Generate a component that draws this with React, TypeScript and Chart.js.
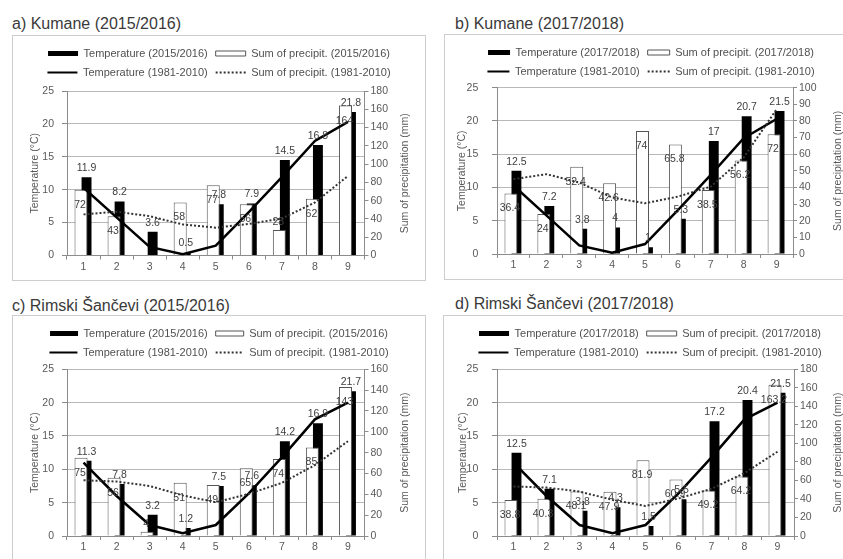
import React, { useEffect, useRef } from "react";
import { Chart, registerables } from "chart.js";

Chart.register(...registerables);

const FAMILY = '"Liberation Sans", Arial, sans-serif';

// ---- data ----
const months = ["1", "2", "3", "4", "5", "6", "7", "8", "9"];

const tempKumane1516 = [11.9, 8.2, 3.6, 0.5, 7.8, 7.9, 14.5, 16.8, 21.8];
const precKumane1516 = [72, 43, 0, 58, 77, 56, 28, 62, 164];
const tempKumane1718 = [12.5, 7.2, 3.8, 4, 1, 5.3, 17, 20.7, 21.5];
const precKumane1718 = [36.4, 24, 52.4, 42.6, 74, 65.8, 38.5, 56.2, 72];
const normTempKumane = [10.3, 5.8, 1.3, 0.2, 1.5, 6.6, 11.9, 17.4, 20.3];
const normPrecKumane = [45, 48, 43, 34, 30.5, 34.5, 40.5, 58, 87];

const tempRimski1516 = [11.3, 7.8, 3.2, 1.2, 7.5, 7.6, 14.2, 16.9, 21.7];
const precRimski1516 = [75, 56, 4, 51, 49, 65, 74, 85, 143];
const tempRimski1718 = [12.5, 7.1, 3.8, 4.3, 1.5, 5.5, 17.2, 20.4, 21.5];
const precRimski1718 = [38.8, 40.3, 48.1, 47.9, 81.9, 60.9, 49.2, 64.2, 163.2];
const normTempRimski = [11, 6, 1.65, 0.4, 1.65, 6.4, 11.8, 17.5, 20];
const normPrecRimski = [53.5, 52.3, 48, 39, 32.4, 40.5, 51, 68, 91];

const tempAxisTitle = "Temperature (°C)";
const precAxisTitle = "Sum of precipitation (mm)";

// ---- plugins ----
const legendSpacer = {
  id: "legendSpacer",
  beforeInit(chart: any, _a: any, opts: any) {
    const legend = chart.legend;
    if (!legend) return;
    const orig = legend.fit;
    legend.fit = function () {
      orig.call(this);
      this.height = opts.height;
    };
  },
};

const rightTitle = {
  id: "rightTitle",
  afterDraw(chart: any, _a: any, opts: any) {
    const ctx = chart.ctx;
    const ca = chart.chartArea;
    ctx.save();
    ctx.translate(opts.x, (ca.top + ca.bottom) / 2);
    ctx.rotate(-Math.PI / 2);
    ctx.font = `10.5px ${FAMILY}`;
    ctx.fillStyle = "#595959";
    ctx.textAlign = "center";
    ctx.textBaseline = "middle";
    ctx.fillText(opts.text, 0, 0);
    ctx.restore();
  },
};

const valueLabels = {
  id: "valueLabels",
  afterDatasetsDraw(chart: any) {
    const ctx = chart.ctx;
    ctx.save();
    ctx.font = `10.5px ${FAMILY}`;
    ctx.fillStyle = "#404040";
    ctx.textAlign = "center";
    ctx.textBaseline = "middle";
    const pMeta = chart.getDatasetMeta(1);
    const pData = chart.data.datasets[1].data;
    pMeta.data.forEach((bar: any, i: number) => {
      const v = pData[i];
      if (!v) return;
      const h = bar.base - bar.y;
      const y = h > 26 ? bar.y + 15 : bar.y - 8;
      ctx.fillText(String(v), bar.x - 1, y);
    });
    const tMeta = chart.getDatasetMeta(0);
    const tData = chart.data.datasets[0].data;
    tMeta.data.forEach((bar: any, i: number) => {
      const v = tData[i];
      ctx.fillText(String(v), bar.x, bar.y - 9);
    });
    ctx.restore();
  },
};

type PanelProps = {
  title: string;
  period: string;
  temp: number[];
  prec: number[];
  normTemp: number[];
  normPrec: number[];
  rMax: number;
  rStep: number;
  boxX: number;
  boxY: number;
  titleX: number;
  titleY: number;
  lw: number;
  rw: number;
  xh: number;
  legendH: number;
  leftTitleX: number;
  leftPad: number;
  rightTitleX: number;
  symW: number;
};

const CW = 412;
const CH = 244;
const TOP_PAD = 4;

function Panel(p: PanelProps) {
  const ref = useRef<HTMLCanvasElement>(null);
  useEffect(() => {
    if (!ref.current) return;
    const tickFont = { family: FAMILY, size: 10.5 };
    const chart = new Chart(ref.current, {
      type: "bar",
      data: {
        labels: months,
        datasets: [
          {
            type: "bar",
            label: `Temperature (${p.period})`,
            data: p.temp,
            yAxisID: "y",
            backgroundColor: "#000",
            borderColor: "#000",
            borderWidth: 0,
            categoryPercentage: 0.364,
            barPercentage: 1.65,
            order: 3,
          },
          {
            type: "bar",
            label: `Sum of precipit. (${p.period})`,
            data: p.prec,
            yAxisID: "y1",
            backgroundColor: "#fff",
            borderColor: "#555",
            borderWidth: 1,
            categoryPercentage: 0.303,
            barPercentage: 2.6,
            order: 2,
          },
          {
            type: "line",
            label: "Temperature (1981-2010)",
            data: p.normTemp,
            yAxisID: "y",
            borderColor: "#000",
            backgroundColor: "#000",
            borderWidth: 2.5,
            pointRadius: 0,
            tension: 0,
            order: 1,
          },
          {
            type: "line",
            label: "Sum of precipit. (1981-2010)",
            data: p.normPrec,
            yAxisID: "y1",
            borderColor: "#333",
            backgroundColor: "#333",
            borderWidth: 2,
            borderDash: [2, 2],
            pointRadius: 0,
            tension: 0,
            order: 0,
          },
        ] as any,
      },
      options: {
        responsive: false,
        maintainAspectRatio: false,
        animation: false,
        events: [],
        layout: { padding: { top: TOP_PAD, left: 0, right: 0, bottom: 0 } },
        scales: {
          x: {
            type: "category",
            offset: true,
            grid: {
              offset: true,
              drawOnChartArea: false,
              drawTicks: true,
              tickLength: 4,
              color: "#8c8c8c",
            },
            border: { display: true, color: "#8c8c8c" },
            ticks: { font: tickFont, color: "#595959", padding: 1, maxRotation: 0, autoSkip: false },
            afterFit: (s: any) => {
              s.height = p.xh;
            },
          },
          y: {
            position: "left",
            min: 0,
            max: 25,
            ticks: { stepSize: 5, font: tickFont, color: "#595959", padding: p.leftPad },
            grid: { color: "#b8b8b8", tickColor: "#8c8c8c", tickLength: 5, drawTicks: true },
            border: { display: true, color: "#8c8c8c" },
            title: {
              display: true,
              text: tempAxisTitle,
              font: tickFont,
              color: "#595959",
              padding: { top: p.leftTitleX - 6.3, bottom: 0 },
            },
            afterFit: (s: any) => {
              s.width = p.lw;
            },
          },
          y1: {
            position: "right",
            min: 0,
            max: p.rMax,
            ticks: { stepSize: p.rStep, font: tickFont, color: "#595959", padding: 2 },
            grid: { drawOnChartArea: false, tickLength: 4, color: "#8c8c8c" },
            border: { display: true, color: "#8c8c8c" },
            afterFit: (s: any) => {
              s.width = p.rw;
            },
          },
        } as any,
        plugins: {
          tooltip: { enabled: false },
          legend: {
            display: true,
            position: "top",
            align: "center",
            labels: {
              usePointStyle: true,
              pointStyleWidth: p.symW,
              boxHeight: 5,
              padding: 8,
              font: { family: FAMILY, size: 11 },
              color: "#505050",
              generateLabels: (c: any) =>
                c.data.datasets.map((ds: any, i: number) => ({
                  text: ds.label,
                  datasetIndex: i,
                  hidden: false,
                  fillStyle: ds.type === "line" ? "rgba(0,0,0,0)" : ds.backgroundColor,
                  strokeStyle: ds.borderColor,
                  lineWidth: ds.type === "line" ? Math.min(ds.borderWidth, 2) : ds.borderWidth,
                  lineDash: ds.borderDash || [],
                  pointStyle: ds.type === "line" ? "line" : "rect",
                  fontColor: "#505050",
                })),
            },
          },
          legendSpacer: { height: p.legendH - (TOP_PAD - 2.5) },
          rightTitle: { text: precAxisTitle, x: p.rightTitleX },
        } as any,
      },
      plugins: [legendSpacer, rightTitle, valueLabels] as any,
    });
    return () => chart.destroy();
  }, []);

  return (
    <>
      <div
        style={{
          position: "absolute",
          left: p.titleX,
          top: p.titleY,
          font: `16px ${FAMILY}`,
          lineHeight: "19px",
          color: "#3a3a3a",
          whiteSpace: "nowrap",
        }}
      >
        {p.title}
      </div>
      <div
        style={{
          position: "absolute",
          left: p.boxX,
          top: p.boxY,
          width: CW,
          height: CH,
          border: "1px solid #cdcdcd",
          background: "#fff",
        }}
      >
        <canvas ref={ref} width={CW} height={CH} style={{ display: "block", width: CW, height: CH }} />
      </div>
    </>
  );
}

export default function App() {
  return (
    <div
      style={{
        position: "fixed",
        left: 0,
        top: 0,
        width: 843,
        height: 559,
        overflow: "hidden",
        background: "#fff",
      }}
    >
      <Panel
        title="a) Kumane (2015/2016)"
        period="2015/2016"
        temp={tempKumane1516}
        prec={precKumane1516}
        normTemp={normTempKumane}
        normPrec={normPrecKumane}
        rMax={180}
        rStep={20}
        boxX={12}
        boxY={35}
        titleX={12}
        titleY={13.5}
        lw={54}
        rw={60.5}
        xh={24.5}
        legendH={52.5}
        leftTitleX={22}
        leftPad={8}
        rightTitleX={392}
        symW={30}
      />
      <Panel
        title="b) Kumane (2017/2018)"
        period="2017/2018"
        temp={tempKumane1718}
        prec={precKumane1718}
        normTemp={normTempKumane}
        normPrec={normPrecKumane}
        rMax={100}
        rStep={10}
        boxX={444}
        boxY={34}
        titleX={455}
        titleY={13.5}
        lw={52}
        rw={64}
        xh={25}
        legendH={50.2}
        leftTitleX={17}
        leftPad={13.7}
        rightTitleX={393}
        symW={22}
      />
      <Panel
        title="c) Rimski Šančevi (2015/2016)"
        period="2015/2016"
        temp={tempRimski1516}
        prec={precRimski1516}
        normTemp={normTempRimski}
        normPrec={normPrecRimski}
        rMax={160}
        rStep={20}
        boxX={12}
        boxY={315}
        titleX={12}
        titleY={295.5}
        lw={54}
        rw={60.5}
        xh={24}
        legendH={50.8}
        leftTitleX={22}
        leftPad={8}
        rightTitleX={392}
        symW={28}
      />
      <Panel
        title="d) Rimski Šančevi (2017/2018)"
        period="2017/2018"
        temp={tempRimski1718}
        prec={precRimski1718}
        normTemp={normTempRimski}
        normPrec={normPrecRimski}
        rMax={180}
        rStep={20}
        boxX={443}
        boxY={315}
        titleX={455}
        titleY={293.8}
        lw={53}
        rw={62}
        xh={24}
        legendH={50.8}
        leftTitleX={19.3}
        leftPad={13.7}
        rightTitleX={394.3}
        symW={30}
      />
    </div>
  );
}
